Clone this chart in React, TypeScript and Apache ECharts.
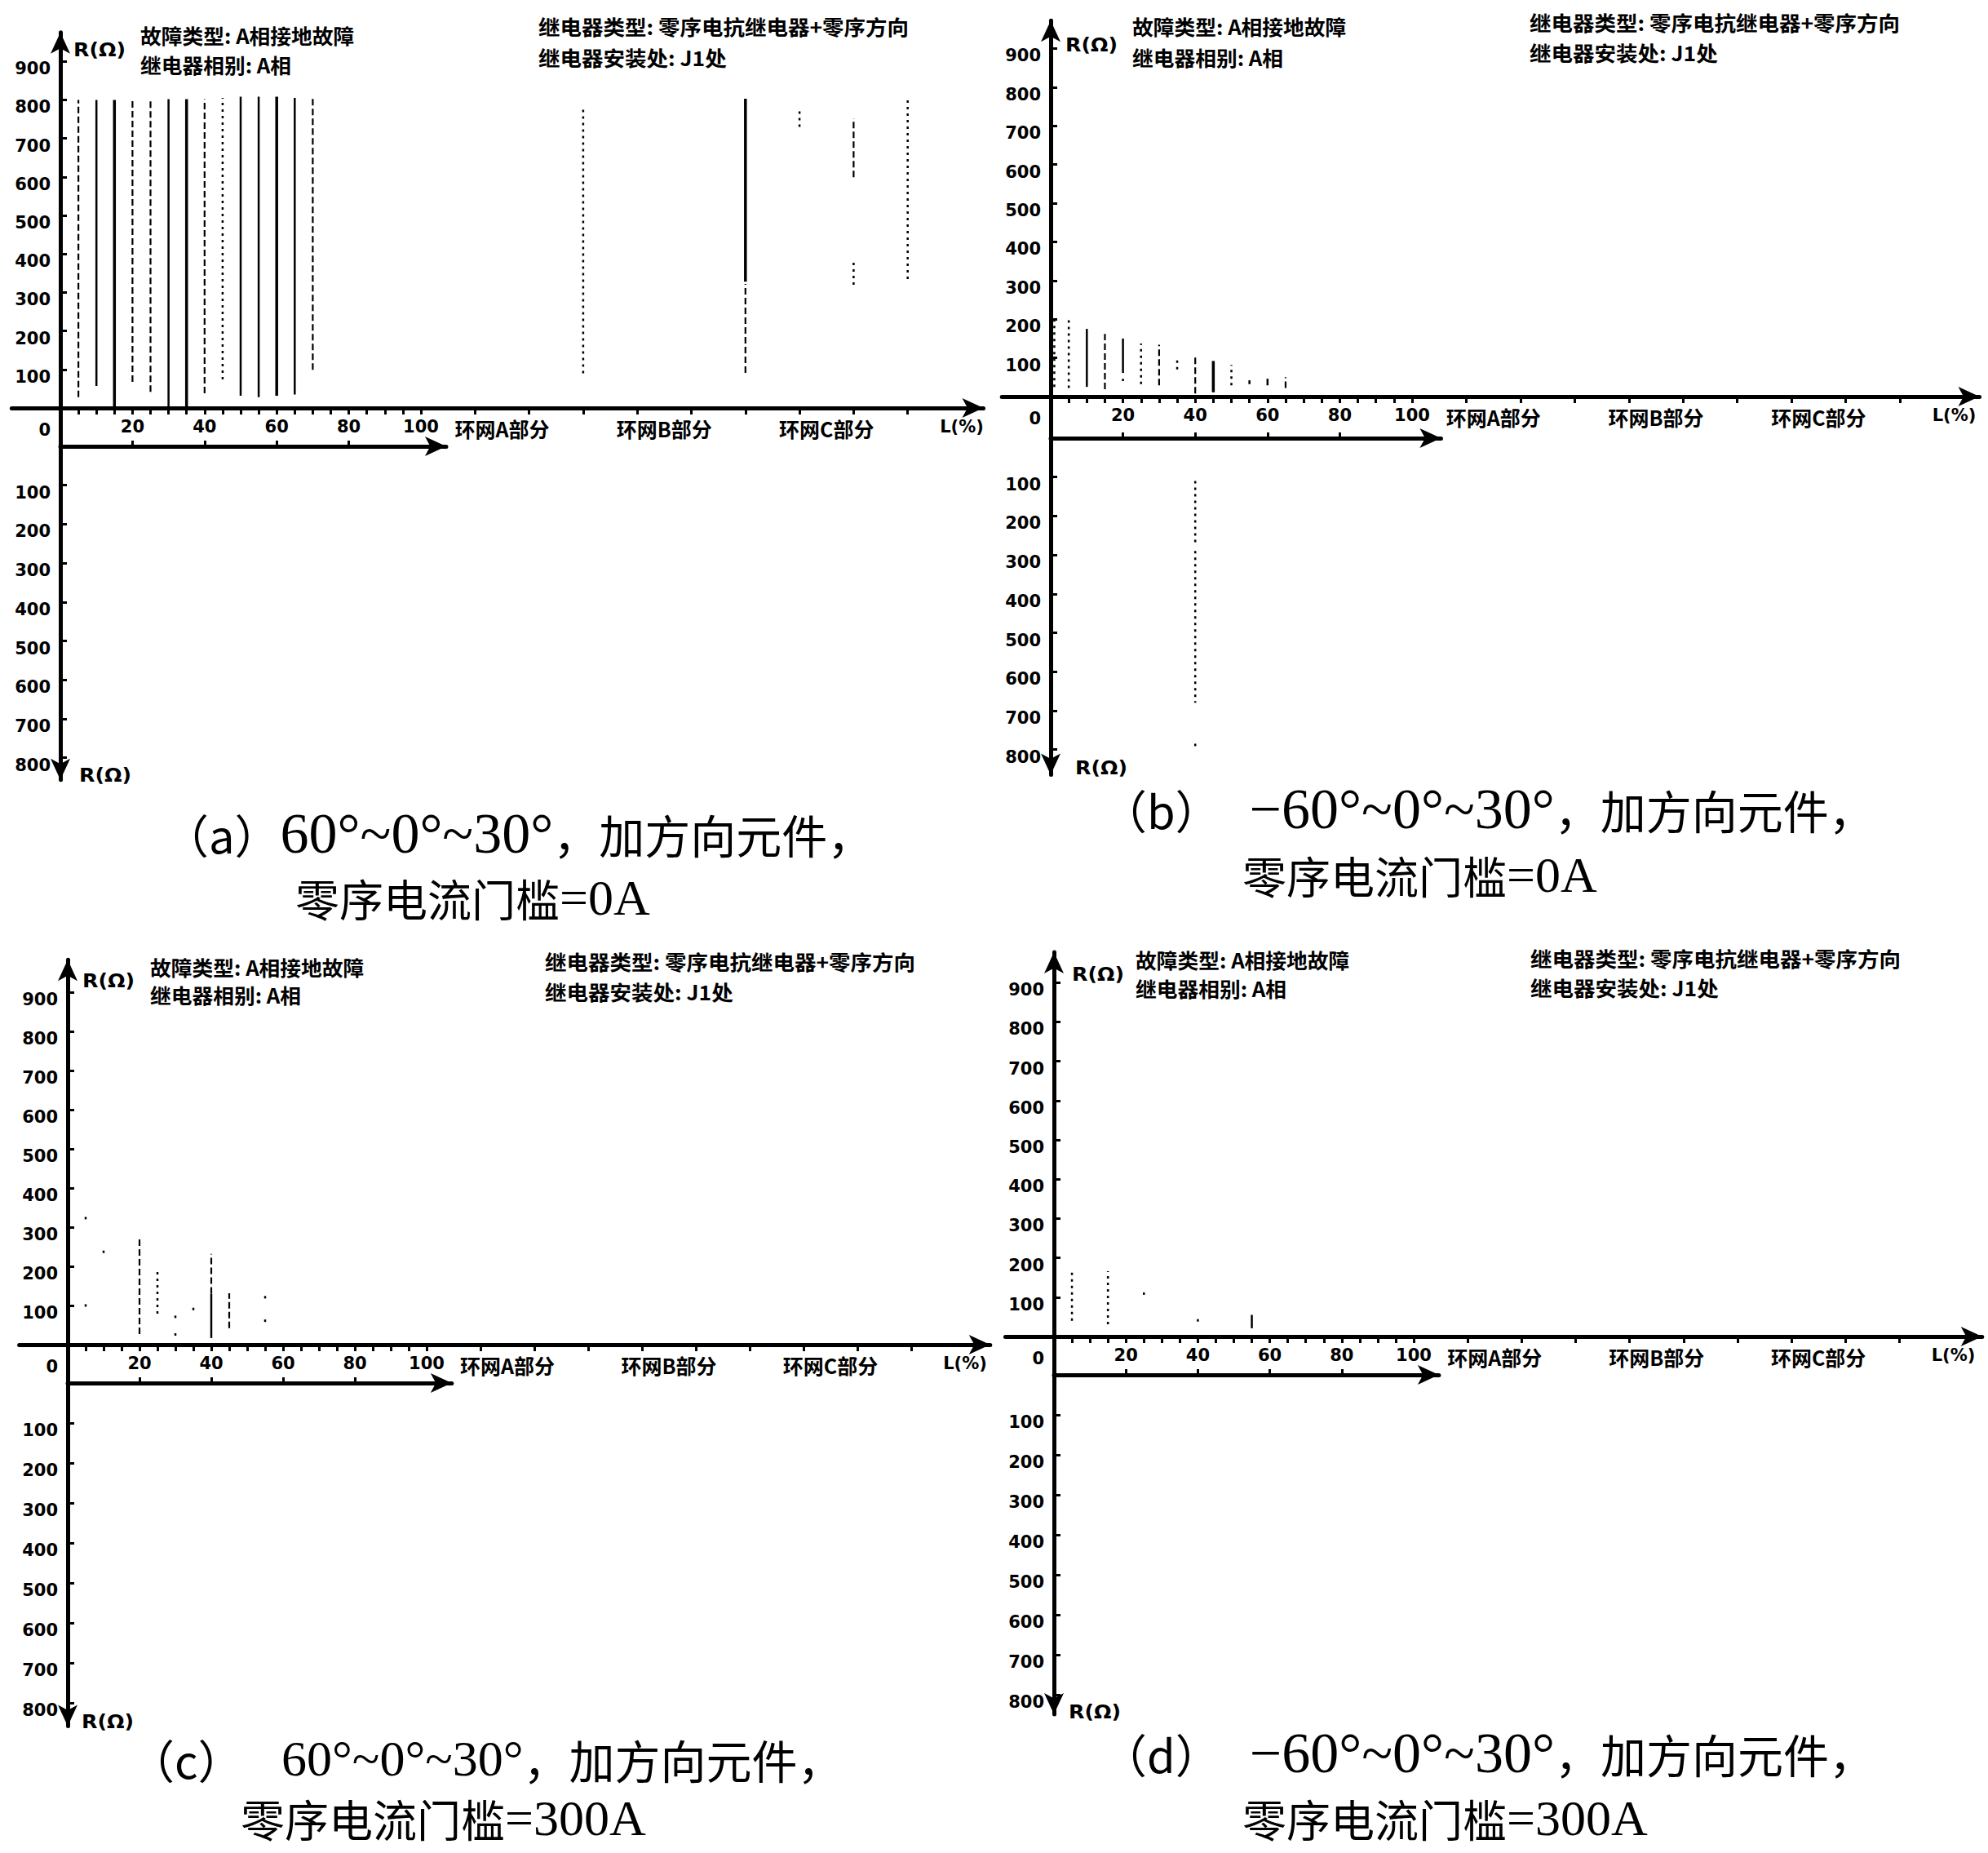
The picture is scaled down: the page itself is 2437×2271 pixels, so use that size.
import React, { useEffect, useRef } from "react";
import * as echarts from "echarts";

// ---------- axis ticks / labels ----------
const UPPER_R_TICKS = [100, 200, 300, 400, 500, 600, 700, 800, 900];
const UPPER_R_LABELS = [0, 100, 200, 300, 400, 500, 600, 700, 800, 900];
const LOWER_R_TICKS = [100, 200, 300, 400, 500, 600, 700, 800];
const L_TICKS = [0, 5, 10, 15, 20, 25, 30, 35, 40, 45, 50, 55, 60, 65, 70, 75, 80, 85, 90, 95, 100, 115, 130, 145, 160, 175, 190, 205, 220, 235];
const L_LABEL_VALUES = [20, 40, 60, 80, 100, 122.5, 167.5, 212.5, 250];
const L_LABEL_TEXTS = ["20", "40", "60", "80", "100", "环网A部分", "环网B部分", "环网C部分", "L(%)"];
const LOWER_L_TICKS = [20, 40, 60, 80];

// ---------- texts ----------
const AXIS_NAME = "R(Ω)";
const HEADER_FAULT = "故障类型: A相接地故障";
const HEADER_PHASE = "继电器相别: A相";
const HEADER_TYPE = "继电器类型: 零序电抗继电器+零序方向";
const HEADER_LOC = "继电器安装处: J1处";
const CAPTION_TAGS = ["（a）", "（b）", "（c）", "（d）"];
const CAPTION_ANGLES = ["60°~0°~30°", "  −60°~0°~30°", "   60°~0°~30°", "  −60°~0°~30°"];
const CAPTION_TAIL = "，加方向元件，";
const THRESHOLD_NAME = "零序电流门槛";
const THRESHOLD_VALUES = ["=0A", "=0A", "=300A", "=300A"];

// ---------- data: [L position, R from, R to, line style] ----------
// style: 0 thin solid, 1 thick solid, 2 dashed, 3 dotted
const SEG_A_UP = [
  [5, 28, 800, 2], [10, 57, 800, 0], [15, 0, 800, 1], [20, 68, 800, 2], [25, 42, 800, 2],
  [30, 0, 802, 0], [35, 0, 802, 1], [40, 38, 802, 2], [45, 74, 805, 3], [50, 32, 808, 0],
  [55, 28, 808, 0], [60, 32, 808, 1], [65, 35, 805, 0], [70, 99, 808, 2],
  [145, 90, 785, 3], [190, 328, 803, 1], [190, 91, 322, 2], [205, 730, 770, 3],
  [220, 599, 752, 2], [220, 320, 380, 3], [235, 335, 799, 3],
];
const SEG_A_LOW: number[][] = [];
const SEG_B_UP = [
  [1, 25, 205, 3], [5, 22, 199, 3], [10, 25, 175, 0], [15, 19, 162, 2], [20, 61, 150, 0],
  [20, 40, 46, 3], [25, 32, 137, 3], [30, 29, 134, 2], [35, 70, 96, 3], [40, 8, 106, 2],
  [45, 11, 92, 1], [50, 29, 82, 3], [55, 32, 42, 0], [60, 29, 46, 0], [65, 22, 50, 2],
];
const SEG_B_LOW = [[40, 110, 270, 3], [40, 290, 680, 3], [40, 785, 795, 3]];
const SEG_C_UP = [
  [5, 320, 330, 3], [5, 97, 106, 3], [10, 234, 243, 3], [20, 27, 277, 2], [25, 79, 194, 3],
  [30, 68, 76, 3], [30, 23, 30, 3], [35, 88, 96, 3], [40, 130, 232, 2], [40, 17, 130, 0],
  [45, 42, 131, 2], [55, 118, 132, 3], [55, 58, 65, 3],
];
const SEG_C_LOW: number[][] = [];
const SEG_D_UP = [
  [5, 40, 172, 3], [15, 31, 166, 3], [25, 106, 113, 3], [40, 38, 45, 3], [55, 21, 55, 0],
];
const SEG_D_LOW: number[][] = [];

// ---------- layout (pixels) ----------
const PANELS = [
  { up: SEG_A_UP, low: SEG_A_LOW, axisX: 74, originY: 500, yPxUp: 47.2, lowZeroY: 547, yPxLow: 47.7, xPx: 4.42, xMin: -13.5, xMax: 256, yTop: 975, lowXMax: 107, lowBottom: 857,
    rTop: [90, 61], fault: [172, 43], phase: [172, 79], rtype: [660, 32], rloc: [660, 70], rBottom: [97, 950], cap1: [200, 1021], cap2: [362, 1100], capNum: 70 },
  { up: SEG_B_UP, low: SEG_B_LOW, axisX: 1288, originY: 486, yPxUp: 47.4, lowZeroY: 537, yPxLow: 47.7, xPx: 4.43, xMin: -13.5, xMax: 257, yTop: 972, lowXMax: 108, lowBottom: 865,
    rTop: [1306, 55], fault: [1388, 32], phase: [1388, 70], rtype: [1875, 27], rloc: [1875, 64], rBottom: [1318, 941], cap1: [1350, 991], cap2: [1523, 1072], capNum: 70 },
  { up: SEG_C_UP, low: SEG_C_LOW, axisX: 83, originY: 1648, yPxUp: 48, lowZeroY: 1695, yPxLow: 49, xPx: 4.4, xMin: -13.5, xMax: 257, yTop: 983, lowXMax: 107, lowBottom: 858,
    rTop: [101, 1202], fault: [184, 1185], phase: [184, 1219], rtype: [668, 1178], rloc: [668, 1215], rBottom: [100, 2110], cap1: [158, 2155], cap2: [295, 2228], capNum: 62 },
  { up: SEG_D_UP, low: SEG_D_LOW, axisX: 1292, originY: 1638, yPxUp: 48.2, lowZeroY: 1685, yPxLow: 49, xPx: 4.41, xMin: -13.5, xMax: 258, yTop: 977, lowXMax: 107, lowBottom: 849,
    rTop: [1314, 1194], fault: [1392, 1176], phase: [1392, 1211], rtype: [1876, 1174], rloc: [1876, 1210], rBottom: [1310, 2098], cap1: [1350, 2148], cap2: [1523, 2228], capNum: 70 },
];

const NUM_FONT = '"DejaVu Sans", sans-serif';
const CJK_FONT = '"Noto Sans CJK SC", sans-serif';
const SERIF_FONT = '"Liberation Serif", "Noto Sans CJK SC", serif';
const LINE_WIDTHS = [2.5, 3.5, 2.2, 2.5];
const LINE_DASHES: any[] = [null, null, [8, 4], [3, 5]];

function segSeries(data: number[][], idx: number) {
  return {
    type: "custom",
    xAxisIndex: idx,
    yAxisIndex: idx,
    silent: true,
    clip: false,
    data,
    renderItem: (_p: any, api: any) => {
      const x = api.value(0);
      const p1 = api.coord([x, api.value(1)]);
      const p2 = api.coord([x, api.value(2)]);
      const st = api.value(3);
      return {
        type: "line",
        shape: { x1: p1[0], y1: p1[1], x2: p2[0], y2: p2[1] },
        style: { stroke: "#000", lineWidth: LINE_WIDTHS[st], lineDash: LINE_DASHES[st] },
      };
    },
  };
}

function text(x: number, y: number, t: string, size: number, family: string, scaleX = 1, weight = "bold") {
  return {
    type: "text", x, y, scaleX, silent: true,
    style: { text: t, fill: "#000", fontSize: size, fontFamily: family, fontWeight: weight, textAlign: "left", verticalAlign: "middle" },
  };
}

const numRich = {
  n: { fontFamily: NUM_FONT, fontSize: 21, fontWeight: "bold", color: "#000", padding: [18, 0, 0, 0] },
  z: { fontFamily: NUM_FONT, fontSize: 21, fontWeight: "bold", color: "#000", padding: [54, 0, 0, 0] },
};

function buildOption() {
  const grid: any[] = [];
  const xAxis: any[] = [];
  const yAxis: any[] = [];
  const series: any[] = [];
  const graphic: any[] = [];
  const axisColor = "#000";

  PANELS.forEach((p, i) => {
    const up = 2 * i;
    const lo = 2 * i + 1;
    const yMinUp = -((p.lowZeroY - p.originY) / p.yPxUp) * 100;
    grid.push({
      left: p.axisX + p.xMin * p.xPx,
      top: p.originY - (p.yTop * p.yPxUp) / 100,
      width: (p.xMax - p.xMin) * p.xPx,
      height: ((p.yTop - yMinUp) * p.yPxUp) / 100,
      containLabel: false, outerBoundsMode: "none",
    });
    grid.push({
      left: p.axisX,
      top: p.lowZeroY,
      width: p.lowXMax * p.xPx,
      height: (p.lowBottom * p.yPxLow) / 100,
      containLabel: false, outerBoundsMode: "none",
    });

    xAxis.push({
      type: "value", gridIndex: up, min: p.xMin, max: p.xMax, position: "bottom",
      offset: -(p.lowZeroY - p.originY),
      splitLine: { show: false },
      axisLine: { show: true, onZero: false, symbol: ["none", "arrow"], symbolSize: [18, 26], lineStyle: { color: axisColor, width: 5 } },
      axisTick: { show: true, customValues: L_TICKS, length: 8, lineStyle: { color: axisColor, width: 3 } },
      axisLabel: {
        show: true, customValues: L_LABEL_VALUES, margin: 12, color: "#000",
        fontFamily: NUM_FONT, fontSize: 21, fontWeight: "bold",
        formatter: (v: number) => {
          const k = L_LABEL_VALUES.indexOf(v);
          const t = k >= 0 ? L_LABEL_TEXTS[k] : "";
          return k >= 5 && k < 8 ? `{r|${t}}` : t;
        },
        rich: { r: { fontFamily: CJK_FONT, fontSize: 25, fontWeight: "bold", color: "#000" } },
      },
    });
    yAxis.push({
      type: "value", gridIndex: up, min: yMinUp, max: p.yTop, position: "left",
      offset: p.xMin * p.xPx,
      splitLine: { show: false },
      axisLine: { show: true, onZero: false, symbol: ["none", "arrow"], symbolSize: [18, 26], lineStyle: { color: axisColor, width: 5 } },
      axisTick: { show: true, inside: true, customValues: UPPER_R_TICKS, length: 8, lineStyle: { color: axisColor, width: 3 } },
      axisLabel: {
        show: true, customValues: UPPER_R_LABELS, margin: 12, color: "#000",
        fontFamily: NUM_FONT, fontSize: 21, fontWeight: "bold",
        formatter: (v: number) => (v === 0 ? "{z|0}" : `{n|${v}}`),
        rich: numRich,
      },
    });

    xAxis.push({
      type: "value", gridIndex: lo, min: 0, max: p.lowXMax, position: "top",
      splitLine: { show: false },
      axisLine: { show: true, onZero: false, symbol: ["none", "arrow"], symbolSize: [18, 26], lineStyle: { color: axisColor, width: 5 } },
      axisTick: { show: true, customValues: LOWER_L_TICKS, length: 7, lineStyle: { color: axisColor, width: 3 } },
      axisLabel: { show: false },
    });
    yAxis.push({
      type: "value", gridIndex: lo, min: 0, max: p.lowBottom, inverse: true, position: "left",
      splitLine: { show: false },
      axisLine: { show: true, onZero: false, symbol: ["arrow", "none"], symbolSize: [18, 26], lineStyle: { color: axisColor, width: 5 } },
      axisTick: { show: true, inside: true, customValues: LOWER_R_TICKS, length: 8, lineStyle: { color: axisColor, width: 3 } },
      axisLabel: {
        show: true, customValues: LOWER_R_TICKS, margin: 12, color: "#000",
        fontFamily: NUM_FONT, fontSize: 21, fontWeight: "bold",
        formatter: (v: number) => `{n|${v}}`,
        rich: numRich,
      },
    });

    series.push(segSeries(p.up, up));
    if (p.low.length) series.push(segSeries(p.low, lo));

    graphic.push(text(p.rTop[0], p.rTop[1], AXIS_NAME, 23, NUM_FONT, 1.1));
    graphic.push(text(p.rBottom[0], p.rBottom[1], AXIS_NAME, 23, NUM_FONT, 1.1));
    graphic.push(text(p.fault[0], p.fault[1], HEADER_FAULT, 25, CJK_FONT, 1.03));
    graphic.push(text(p.phase[0], p.phase[1], HEADER_PHASE, 25, CJK_FONT, 1.03));
    graphic.push(text(p.rtype[0], p.rtype[1], HEADER_TYPE, 25, CJK_FONT, 1.06));
    graphic.push(text(p.rloc[0], p.rloc[1], HEADER_LOC, 25, CJK_FONT, 1.06));

    graphic.push({
      type: "text", x: p.cap1[0], y: p.cap1[1], silent: true,
      style: {
        text: `{p|${CAPTION_TAGS[i]}}{n|${CAPTION_ANGLES[i]}}{c|${CAPTION_TAIL}}`,
        fill: "#000", textAlign: "left", verticalAlign: "middle",
        rich: {
          p: { fontFamily: CJK_FONT, fontSize: 56, fill: "#000", lineHeight: 66 },
          n: { fontFamily: SERIF_FONT, fontSize: p.capNum, fill: "#000", lineHeight: 66 },
          c: { fontFamily: CJK_FONT, fontSize: 56, fill: "#000", lineHeight: 66 },
        },
      },
    });
    graphic.push({
      type: "text", x: p.cap2[0], y: p.cap2[1], silent: true,
      style: {
        text: `{c|${THRESHOLD_NAME}}{n|${THRESHOLD_VALUES[i]}}`,
        fill: "#000", textAlign: "left", verticalAlign: "middle",
        rich: {
          n: { fontFamily: SERIF_FONT, fontSize: 62, fill: "#000", lineHeight: 60 },
          c: { fontFamily: CJK_FONT, fontSize: 54, fill: "#000", lineHeight: 60 },
        },
      },
    });
  });

  return { animation: false, backgroundColor: "#fff", grid, xAxis, yAxis, series, graphic };
}

export default function App() {
  const ref = useRef<HTMLDivElement>(null);
  useEffect(() => {
    if (!ref.current) return;
    const chart = echarts.init(ref.current, undefined, { renderer: "svg" });
    chart.setOption(buildOption() as any);
    return () => chart.dispose();
  }, []);
  return (
    <div
      ref={ref}
      style={{ position: "absolute", left: 0, top: 0, width: 2437, height: 2271, background: "#fff" }}
    />
  );
}
